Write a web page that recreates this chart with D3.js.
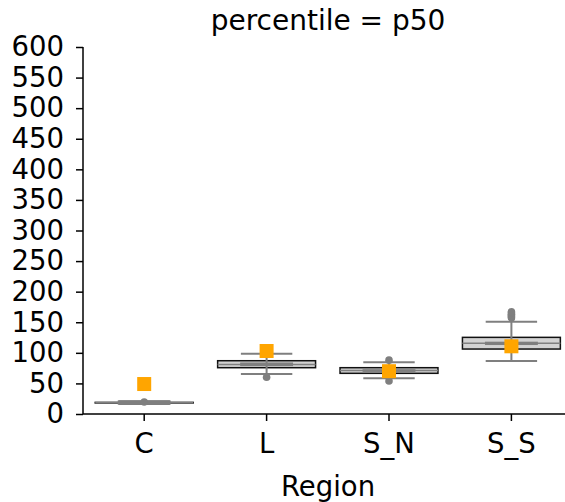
<!DOCTYPE html>
<html><head><meta charset="utf-8">
<script src="https://cdn.jsdelivr.net/npm/d3@7"></script>
<style>html,body{margin:0;padding:0;background:#fff;}svg{display:block;}</style>
</head><body>
<svg id="chart" width="565" height="502"></svg>
<script>
const categories = ["C", "L", "S_N", "S_S"];
const wideQ1  = [18, 75.7, 66.5, 106.2];
const wideMed = [18.5, 81, 71, 115.5];
const wideQ3  = [19, 87.1, 75.7, 125.3];
const narrowQ1 = [16.5, 79.5, 70, 114];
const narrowQ3 = [21, 83, 72, 117];
const whiskerLow  = [16.5, 65.4, 58.3, 86.6];
const whiskerHigh = [21, 98.6, 84.5, 151];
const outliers = [[19.6], [60], [54, 88], [157, 159, 161, 163, 165, 167]];
const observed = [49, 103, 70, 110.7];
const yTicks = [0, 50, 100, 150, 200, 250, 300, 350, 400, 450, 500, 550, 600];

const svg = d3.select("#chart");
const mLeft = 83, mBottom = 414, mTop = 47, step = 122.4;
const x = d3.scaleBand().domain(categories).range([mLeft, mLeft + step * categories.length]).padding(0);
const y = d3.scaleLinear().domain([0, 600]).range([mBottom, mTop]);
const bw = x.bandwidth();
const wideW = bw * 0.8, narrowW = bw * 0.42;
const font = "DejaVu Sans, sans-serif";
const fs = 27.5;

const data = categories.map((c, i) => ({c, i}));
const g = svg.append("g");

// wide boxes
data.forEach(d => {
  const cx = x(d.c) + bw / 2;
  g.append("rect").attr("x", cx - wideW / 2).attr("width", wideW)
    .attr("y", y(wideQ3[d.i])).attr("height", Math.max(0, y(wideQ1[d.i]) - y(wideQ3[d.i])))
    .attr("fill", "#d3d3d3").attr("stroke", "#111").attr("stroke-width", 1.5);
  g.append("line").attr("x1", cx - wideW / 2).attr("x2", cx + wideW / 2)
    .attr("y1", y(wideMed[d.i])).attr("y2", y(wideMed[d.i]))
    .attr("stroke", "#808080").attr("stroke-width", 1.5);
});

// narrow whisker layer
const gray = "#7f7f7f";
data.forEach(d => {
  const cx = x(d.c) + bw / 2;
  g.append("line").attr("x1", cx).attr("x2", cx).attr("y1", y(whiskerLow[d.i])).attr("y2", y(narrowQ1[d.i]))
    .attr("stroke", gray).attr("stroke-width", 2);
  g.append("line").attr("x1", cx).attr("x2", cx).attr("y1", y(narrowQ3[d.i])).attr("y2", y(whiskerHigh[d.i]))
    .attr("stroke", gray).attr("stroke-width", 2);
  [whiskerLow[d.i], whiskerHigh[d.i]].forEach(v => {
    g.append("line").attr("x1", cx - narrowW / 2).attr("x2", cx + narrowW / 2)
      .attr("y1", y(v)).attr("y2", y(v)).attr("stroke", gray).attr("stroke-width", 2);
  });
  g.append("rect").attr("x", cx - narrowW / 2).attr("width", narrowW)
    .attr("y", y(narrowQ3[d.i])).attr("height", y(narrowQ1[d.i]) - y(narrowQ3[d.i]))
    .attr("fill", gray).attr("fill-opacity", 0.6).attr("stroke", gray).attr("stroke-width", 1.5);
  outliers[d.i].forEach(v => {
    g.append("circle").attr("cx", cx).attr("cy", y(v)).attr("r", 3.8).attr("fill", gray);
  });
});

// observed squares
const sq = 14;
data.forEach(d => {
  const cx = x(d.c) + bw / 2;
  g.append("rect").attr("x", cx - sq / 2).attr("y", y(observed[d.i]) - sq / 2)
    .attr("width", sq).attr("height", sq).attr("fill", "#ffa500");
});

// axes
const yAxis = svg.append("g").attr("transform", `translate(${mLeft},0)`)
  .call(d3.axisLeft(y).tickValues(yTicks).tickSize(7).tickPadding(12).tickFormat(d3.format("d")));
const xAxis = svg.append("g").attr("transform", `translate(0,${mBottom})`)
  .call(d3.axisBottom(x).tickSize(7).tickPadding(12));
[yAxis, xAxis].forEach(a => {
  a.select(".domain").attr("stroke", "#000").attr("stroke-width", 1.5);
  a.selectAll(".tick line").attr("stroke", "#000").attr("stroke-width", 1.5);
  a.selectAll(".tick text").attr("font-family", font).attr("font-size", fs).attr("fill", "#000");
});
yAxis.select(".domain").attr("d", `M0,${mTop}V${mBottom}`);
xAxis.select(".domain").attr("d", `M${mLeft},0H565`);

svg.append("text").attr("x", 328).attr("y", 30).attr("text-anchor", "middle")
  .attr("font-family", font).attr("font-size", 28).text("percentile = p50");
svg.append("text").attr("x", 328).attr("y", 496).attr("text-anchor", "middle")
  .attr("font-family", font).attr("font-size", fs).text("Region");
</script>
</body></html>
